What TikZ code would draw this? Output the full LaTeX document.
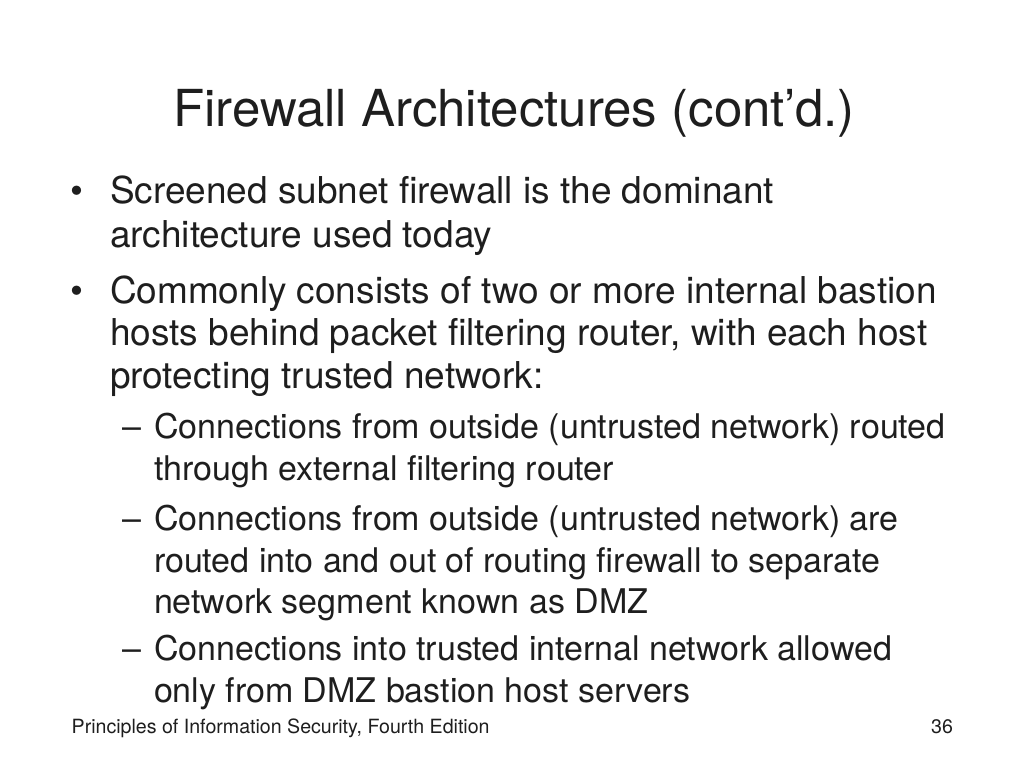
\documentclass[tikz,border=0pt]{standalone}
\usepackage{fontspec}
\setmainfont{TeX Gyre Heros}
\definecolor{ink}{HTML}{1E1E1E}
\begin{document}
\begin{tikzpicture}[x=1pt,y=-1pt,
  txt/.style={anchor=base west,inner sep=0pt,outer sep=0pt,text=ink},
  ttl/.style={txt,anchor=base,font=\fontsize{51}{60}\selectfont},
  lvlone/.style={txt,font=\fontsize{37}{44}\selectfont},
  lvltwo/.style={txt,font=\fontsize{34}{42}\selectfont},
  foot/.style={txt,font=\fontsize{19.6}{23}\selectfont}]
\useasboundingbox[fill=white] (0,0) rectangle (1024,768);
\node[ttl] (title) at (514,126) {Firewall Architectures (cont’d.)};
% bullet 1
\node[lvlone] (b1m) at (70,203) {•};
\node[lvlone] (b1a) at (110,203) {Screened subnet firewall is the dominant};
\node[lvlone] (b1b) at (110,247) {architecture used today};
% bullet 2
\node[lvlone] (b2m) at (70,303) {•};
\node[lvlone] (b2a) at (110,303) {Commonly consists of two or more internal bastion};
\node[lvlone] (b2b) at (110,345) {hosts behind packet filtering router, with each host};
\node[lvlone] (b2c) at (110,388) {protecting trusted network:};
% sub 1
\node[lvltwo] (s1m) at (122,438) {–};
\node[lvltwo] (s1a) at (154,438) {Connections from outside (untrusted network) routed};
\node[lvltwo] (s1b) at (154,480) {through external filtering router};
% sub 2
\node[lvltwo] (s2m) at (122,530) {–};
\node[lvltwo] (s2a) at (154,530) {Connections from outside (untrusted network) are};
\node[lvltwo] (s2b) at (154,572) {routed into and out of routing firewall to separate};
\node[lvltwo] (s2c) at (154,613) {network segment known as DMZ};
% sub 3
\node[lvltwo] (s3m) at (122,660) {–};
\node[lvltwo] (s3a) at (154,660) {Connections into trusted internal network allowed};
\node[lvltwo] (s3b) at (154,702) {only from DMZ bastion host servers};
% footer
\node[foot] (ft) at (71.7,733) {Principles of Information Security, Fourth Edition};
\node[foot,anchor=base east] (pg) at (953,733) {36};
\end{tikzpicture}
\end{document}
